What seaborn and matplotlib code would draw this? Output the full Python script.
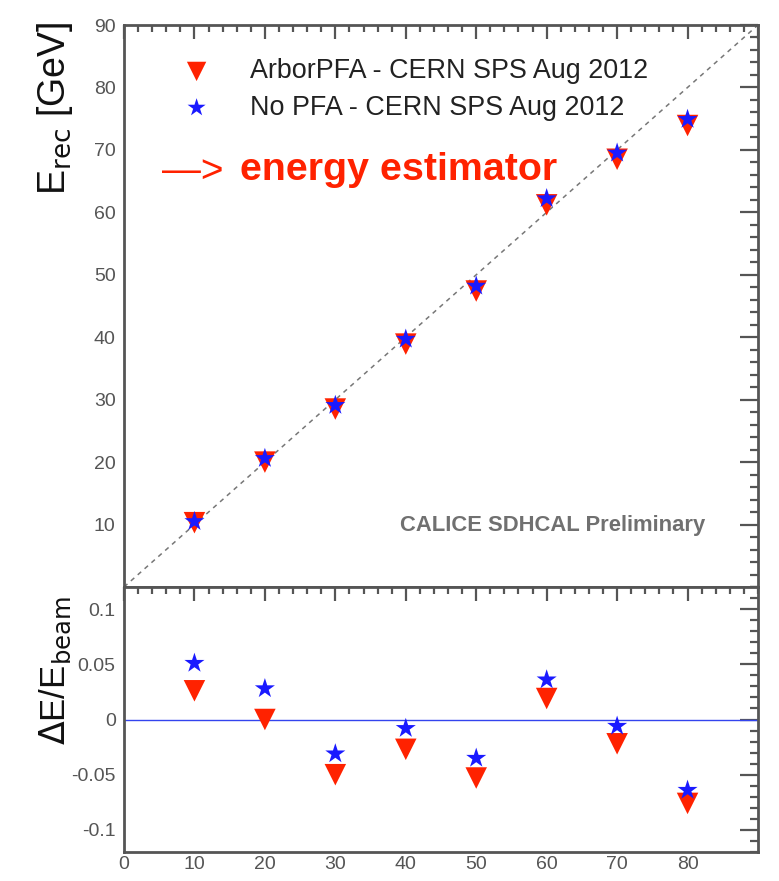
import numpy as np
import pandas as pd
import matplotlib
matplotlib.use("Agg")
import matplotlib.pyplot as plt
from matplotlib.ticker import MultipleLocator, FixedLocator, FixedFormatter
import seaborn as sns

# ---- data ----
beam_energy = [10, 20, 30, 40, 50, 60, 70, 80]
erec_arbor = [10.3, 20.0, 28.5, 38.9, 47.4, 61.2, 68.5, 73.9]
erec_nopfa = [10.5, 20.6, 29.1, 39.7, 48.2, 62.2, 69.5, 74.9]
dev_arbor = [0.026, 0.0, -0.050, -0.027, -0.053, 0.019, -0.022, -0.076]
dev_nopfa = [0.051, 0.028, -0.031, -0.008, -0.035, 0.036, -0.006, -0.064]
label_arbor = "ArborPFA - CERN SPS Aug 2012"
label_nopfa = "No PFA - CERN SPS Aug 2012"
top_yticks = [10, 20, 30, 40, 50, 60, 70, 80, 90]
bot_yticks = [0.1, 0.05, 0.0, -0.05, -0.1]
bot_yticklabels = ["0.1", "0.05", "0", "-0.05", "-0.1"]
x_ticks = [0, 10, 20, 30, 40, 50, 60, 70, 80]

df = pd.DataFrame({"E": beam_energy, "arbor": erec_arbor, "nopfa": erec_nopfa,
                   "darbor": dev_arbor, "dnopfa": dev_nopfa})

sns.set_style("white")
plt.rcParams["font.family"] = ["Liberation Sans", "DejaVu Sans"]

RED = "#ff2200"
BLUE = "#1a1aff"
AXC = "#555555"
TXT = "#555555"

fig = plt.figure(figsize=(7.79, 8.81), dpi=100)
W, H = 779, 881
left, right = 124 / W, 758 / W
ax1 = fig.add_axes([left, 1 - 587 / H, right - left, (587 - 25) / H])
ax2 = fig.add_axes([left, 1 - 852 / H, right - left, (852 - 587) / H])

# --- top panel ---
ax1.plot([0, 90], [0, 90], ls=(0, (3, 3)), color="#777777", lw=1.1, zorder=1)
sns.scatterplot(data=df, x="E", y="arbor", ax=ax1, marker="v", s=240, color=RED,
                edgecolor="none", label=label_arbor, zorder=3)
sns.scatterplot(data=df, x="E", y="nopfa", ax=ax1, marker="*", s=230, color=BLUE,
                edgecolor="none", label=label_nopfa, zorder=4)
ax1.set_xlim(0, 90)
ax1.set_ylim(0, 90)
ax1.set_xlabel("")
ax1.set_ylabel(r"E$_{\rm rec}$ [GeV]", fontsize=27, color="#111111")
ax1.yaxis.set_label_coords(-0.077, 0.852)
ax1.yaxis.set_major_locator(FixedLocator(top_yticks))
ax1.yaxis.set_minor_locator(MultipleLocator(2))
ax1.xaxis.set_major_locator(MultipleLocator(10))
ax1.xaxis.set_minor_locator(MultipleLocator(2))
ax1.tick_params(axis="x", labelbottom=False)

leg = ax1.legend(loc="upper left", bbox_to_anchor=(0.0635, 0.950), frameon=False,
                 fontsize=19.4, handletextpad=1.0, labelspacing=0.38, borderaxespad=0,
                 borderpad=0.2, markerscale=0.9)
for t in leg.get_texts():
    t.set_color("#222222")

fig.text(400 / W, 1 - 525 / H, "CALICE SDHCAL Preliminary",
         fontsize=15.8, fontweight="bold", color="#707070", va="center", ha="left")
fig.text(162 / W, 1 - 182 / H, "\u2014>", fontsize=28, color=RED, va="baseline", ha="left")
fig.text(240 / W, 1 - 180 / H, "energy estimator", fontsize=28.4, fontweight="bold",
         color=RED, va="baseline", ha="left")

# --- bottom panel ---
ax2.axhline(0, color="#3344ee", lw=1.0, zorder=1)
sns.scatterplot(data=df, x="E", y="darbor", ax=ax2, marker="v", s=240, color=RED,
                edgecolor="none", zorder=3, legend=False)
sns.scatterplot(data=df, x="E", y="dnopfa", ax=ax2, marker="*", s=230, color=BLUE,
                edgecolor="none", zorder=4, legend=False)
ax2.set_xlim(0, 90)
ax2.set_ylim(-0.12, 0.12)
ax2.set_xlabel("")
ax2.set_ylabel(r"$\Delta$E/E$_{\rm beam}$", fontsize=25, color="#111111")
ax2.yaxis.set_label_coords(-0.08, 0.683)
ax2.yaxis.set_major_locator(FixedLocator(bot_yticks))
ax2.yaxis.set_major_formatter(FixedFormatter(bot_yticklabels))
ax2.yaxis.set_minor_locator(MultipleLocator(0.01))
ax2.xaxis.set_major_locator(FixedLocator(x_ticks))
ax2.xaxis.set_minor_locator(MultipleLocator(2))

for ax in (ax1, ax2):
    for sp in ax.spines.values():
        sp.set_color(AXC)
        sp.set_linewidth(2)
        sp.set_visible(True)
    ax.tick_params(which="both", direction="in", top=True, right=True, colors=AXC,
                   labelcolor=TXT, labelsize=14, width=1.6)
    ax.tick_params(axis="y", which="major", length=13, pad=6)
    ax.tick_params(axis="y", which="minor", length=6)
    ax.tick_params(axis="x", which="major", length=10, pad=3)
    ax.tick_params(axis="x", which="minor", length=5)
    ax.set_facecolor("white")

fig.savefig("out.png", dpi=100, facecolor="white")
